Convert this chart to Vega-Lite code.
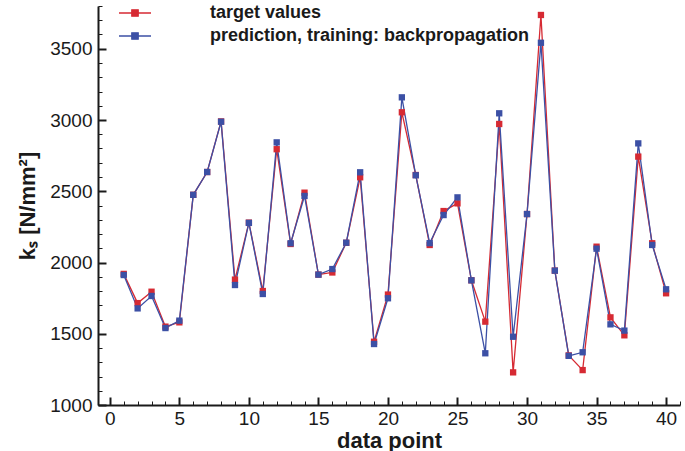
{
  "$schema": "https://vega.github.io/schema/vega-lite/v6.json",
  "width": 582,
  "height": 399,
  "autosize": {"type": "none"},
  "padding": {"left": 98, "top": 6, "right": 5, "bottom": 46},
  "config": {"view": {"stroke": null}, "font": "Liberation Sans"},
  "data": {"values": [
    {"x":1,"s":"target values","y":1920},{"x":2,"s":"target values","y":1715},{"x":3,"s":"target values","y":1795},{"x":4,"s":"target values","y":1550},{"x":5,"s":"target values","y":1580},
    {"x":6,"s":"target values","y":2475},{"x":7,"s":"target values","y":2635},{"x":8,"s":"target values","y":2990},{"x":9,"s":"target values","y":1880},{"x":10,"s":"target values","y":2280},
    {"x":11,"s":"target values","y":1800},{"x":12,"s":"target values","y":2795},{"x":13,"s":"target values","y":2130},{"x":14,"s":"target values","y":2490},{"x":15,"s":"target values","y":1915},
    {"x":16,"s":"target values","y":1930},{"x":17,"s":"target values","y":2138},{"x":18,"s":"target values","y":2598},{"x":19,"s":"target values","y":1444},{"x":20,"s":"target values","y":1775},
    {"x":21,"s":"target values","y":3054},{"x":22,"s":"target values","y":2614},{"x":23,"s":"target values","y":2123},{"x":24,"s":"target values","y":2361},{"x":25,"s":"target values","y":2415},
    {"x":26,"s":"target values","y":1875},{"x":27,"s":"target values","y":1585},{"x":28,"s":"target values","y":2972},{"x":29,"s":"target values","y":1229},{"x":30,"s":"target values","y":2340},
    {"x":31,"s":"target values","y":3737},{"x":32,"s":"target values","y":1943},{"x":33,"s":"target values","y":1348},{"x":34,"s":"target values","y":1245},{"x":35,"s":"target values","y":2111},
    {"x":36,"s":"target values","y":1615},{"x":37,"s":"target values","y":1489},{"x":38,"s":"target values","y":2743},{"x":39,"s":"target values","y":2135},{"x":40,"s":"target values","y":1784},
    {"x":1,"s":"prediction, training: backpropagation","y":1912},{"x":2,"s":"prediction, training: backpropagation","y":1678},{"x":3,"s":"prediction, training: backpropagation","y":1765},{"x":4,"s":"prediction, training: backpropagation","y":1540},{"x":5,"s":"prediction, training: backpropagation","y":1592},
    {"x":6,"s":"prediction, training: backpropagation","y":2475},{"x":7,"s":"prediction, training: backpropagation","y":2635},{"x":8,"s":"prediction, training: backpropagation","y":2988},{"x":9,"s":"prediction, training: backpropagation","y":1842},{"x":10,"s":"prediction, training: backpropagation","y":2278},
    {"x":11,"s":"prediction, training: backpropagation","y":1779},{"x":12,"s":"prediction, training: backpropagation","y":2843},{"x":13,"s":"prediction, training: backpropagation","y":2135},{"x":14,"s":"prediction, training: backpropagation","y":2467},{"x":15,"s":"prediction, training: backpropagation","y":1915},
    {"x":16,"s":"prediction, training: backpropagation","y":1954},{"x":17,"s":"prediction, training: backpropagation","y":2139},{"x":18,"s":"prediction, training: backpropagation","y":2633},{"x":19,"s":"prediction, training: backpropagation","y":1428},{"x":20,"s":"prediction, training: backpropagation","y":1749},
    {"x":21,"s":"prediction, training: backpropagation","y":3159},{"x":22,"s":"prediction, training: backpropagation","y":2612},{"x":23,"s":"prediction, training: backpropagation","y":2136},{"x":24,"s":"prediction, training: backpropagation","y":2333},{"x":25,"s":"prediction, training: backpropagation","y":2457},
    {"x":26,"s":"prediction, training: backpropagation","y":1875},{"x":27,"s":"prediction, training: backpropagation","y":1363},{"x":28,"s":"prediction, training: backpropagation","y":3047},{"x":29,"s":"prediction, training: backpropagation","y":1479},{"x":30,"s":"prediction, training: backpropagation","y":2340},
    {"x":31,"s":"prediction, training: backpropagation","y":3542},{"x":32,"s":"prediction, training: backpropagation","y":1943},{"x":33,"s":"prediction, training: backpropagation","y":1345},{"x":34,"s":"prediction, training: backpropagation","y":1370},{"x":35,"s":"prediction, training: backpropagation","y":2097},
    {"x":36,"s":"prediction, training: backpropagation","y":1566},{"x":37,"s":"prediction, training: backpropagation","y":1522},{"x":38,"s":"prediction, training: backpropagation","y":2836},{"x":39,"s":"prediction, training: backpropagation","y":2123},{"x":40,"s":"prediction, training: backpropagation","y":1812}
  ]},
  "encoding": {
    "color": {
      "field": "s", "type": "nominal",
      "scale": {"domain": ["target values", "prediction, training: backpropagation"], "range": ["#d62a33", "#3c50a5"]},
      "legend": {
        "title": null, "orient": "none", "legendX": 20, "legendY": -3, "padding": 0,
        "symbolType": "M-1,0H1M-0.2,-0.2H0.2V0.2H-0.2Z", "symbolSize": 1024, "symbolStrokeWidth": 1.3,
        "clipHeight": 20, "rowPadding": 3, "labelOffset": 58,
        "labelFont": "Liberation Sans", "labelFontSize": 18, "labelFontWeight": "bold", "labelColor": "#1a1a1a", "labelLimit": 500,
        "encode": {"symbols": {"update": {"fill": {"scale": "color", "field": "value"}, "stroke": {"scale": "color", "field": "value"}}}}
      }
    }
  },
  "layer": [
    {
      "mark": {"type": "line", "strokeWidth": 1.3},
      "encoding": {
        "x": {"field": "x", "type": "quantitative", "scale": {"domain": [-0.85, 41], "nice": false, "zero": false},
          "axis": {"orient": "bottom", "values": [0,1,2,3,4,5,6,7,8,9,10,11,12,13,14,15,16,17,18,19,20,21,22,23,24,25,26,27,28,29,30,31,32,33,34,35,36,37,38,39,40,41], "labels": false, "domain": false, "grid": false, "title": null, "tickSize": -4, "tickWidth": 1, "tickColor": "#1a1a1a"}},
        "y": {"field": "y", "type": "quantitative", "scale": {"domain": [1000, 3800], "nice": false, "zero": false},
          "axis": {"orient": "left", "values": [1000,1100,1200,1300,1400,1500,1600,1700,1800,1900,2000,2100,2200,2300,2400,2500,2600,2700,2800,2900,3000,3100,3200,3300,3400,3500,3600,3700,3800], "labels": false, "domain": false, "grid": false, "title": null, "tickSize": -4, "tickWidth": 1, "tickColor": "#1a1a1a"}}
      }
    },
    {
      "mark": {"type": "point", "shape": "square", "filled": true, "size": 40, "opacity": 1},
      "encoding": {
        "x": {"field": "x", "type": "quantitative",
          "axis": {"orient": "bottom", "values": [0,5,10,15,20,25,30,35,40], "format": "d", "grid": false, "title": "data point", "tickSize": -8, "tickWidth": 2, "tickColor": "#1a1a1a", "domainColor": "#1a1a1a", "domainWidth": 2, "labelFontSize": 19, "labelColor": "#1a1a1a", "labelPadding": 12, "labelFont": "Liberation Sans", "titleFont": "Liberation Sans", "titleFontSize": 22, "titleFontWeight": "bold", "titleColor": "#1a1a1a", "titlePadding": 2}},
        "y": {"field": "y", "type": "quantitative",
          "axis": {"orient": "left", "values": [1000,1500,2000,2500,3000,3500], "format": "d", "grid": false, "title": "kₛ [N/mm²]", "tickSize": -8, "tickWidth": 2, "tickColor": "#1a1a1a", "domainColor": "#1a1a1a", "domainWidth": 2, "labelFontSize": 19, "labelColor": "#1a1a1a", "labelPadding": 14, "labelFont": "Liberation Sans", "titleFont": "Liberation Sans", "titleFontSize": 22, "titleFontWeight": "bold", "titleColor": "#1a1a1a", "titlePadding": 10}}
      }
    }
  ],
  "resolve": {"axis": {"x": "independent", "y": "independent"}}
}
